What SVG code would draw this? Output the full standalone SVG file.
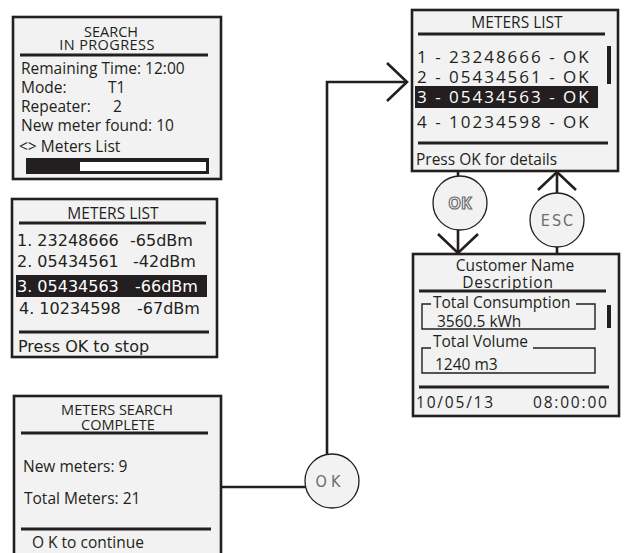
<svg xmlns="http://www.w3.org/2000/svg" width="627" height="553" viewBox="0 0 627 553">
<style>
.box{fill:#f2f2f2;stroke:#231f20;stroke-width:2.6}
.rule{stroke:#231f20;stroke-width:2.8;fill:none}
.t{font-family:"Open Sans","DejaVu Sans",sans-serif;fill:#231f20;font-size:15.5px}
.h{font-size:14.5px}
.d{font-family:"DejaVu Sans",sans-serif;fill:#231f20;font-size:16px}
.c{text-anchor:middle}
.w{fill:#ffffff}
.conn{stroke:#231f20;stroke-width:2.6;fill:none}
.circ{fill:#f2f2f2;stroke:#231f20;stroke-width:1.3}
.btn{font-family:"DejaVu Sans Condensed","Roboto Condensed","DejaVu Sans",sans-serif;font-stretch:condensed;fill:#6d6d6d;font-size:16px;text-anchor:middle}
.frame{stroke:#231f20;stroke-width:1.4;fill:none}
.row{font-size:17px;letter-spacing:2px}
</style>
<g id="connectors">
<path class="conn" d="M221,487 H305"/>
<path class="conn" d="M327,454 V82 H406"/>
<path class="conn" d="M387,63 L407,82 L387,101"/>
<path class="conn" d="M458,171 V176"/>
<path class="conn" d="M458,230 V252"/>
<path class="conn" d="M438,234 L458,253 L478,234"/>
<path class="conn" d="M557,193 V173"/>
<path class="conn" d="M538,190 L557,172 L576,190"/>
<path class="conn" d="M557,247 V254"/>
</g>
<g id="search-in-progress">
<rect class="box" x="13" y="17" width="208" height="162"/>
<text class="t h c" x="111" y="37">SEARCH</text>
<text class="t h c" x="107" y="49.5" letter-spacing="0.4">IN PROGRESS</text>
<line class="rule" x1="20" y1="55" x2="208" y2="55"/>
<text class="t" x="21" y="74" font-size="15.8">Remaining Time: 12:00</text>
<text class="t" x="21" y="93" font-size="15.8">Mode:</text>
<text class="t" x="108" y="93" font-size="15.8">T1</text>
<text class="t" x="21" y="112" font-size="15.8">Repeater:</text>
<text class="t" x="113" y="112" font-size="15.8">2</text>
<text class="t" x="21" y="131" font-size="15.8">New meter found: 10</text>
<text class="t" x="19" y="152" font-size="15.8">&lt;&gt; Meters List</text>
<rect x="26" y="158" width="183" height="16" fill="#231f20"/>
<rect x="80" y="162" width="126" height="9" fill="#ffffff"/>
</g>
<g id="meters-list-rssi">
<rect class="box" x="12" y="199" width="205" height="158"/>
<text class="t c" x="113" y="219">METERS LIST</text>
<line class="rule" x1="19" y1="223" x2="206" y2="223"/>
<text class="d" x="17" y="246">1. 23248666</text>
<text class="d" x="130" y="246">-65dBm</text>
<text class="d" x="17" y="267">2. 05434561</text>
<text class="d" x="133" y="267">-42dBm</text>
<rect x="16" y="275" width="191" height="22" fill="#231f20"/>
<text class="d w" x="17" y="292">3. 05434563</text>
<text class="d w" x="135" y="292">-66dBm</text>
<text class="d" x="19" y="314">4. 10234598</text>
<text class="d" x="137" y="314">-67dBm</text>
<line class="rule" x1="19" y1="332" x2="209" y2="332"/>
<text class="d" x="18" y="352">Press OK to stop</text>
</g>
<g id="search-complete">
<rect class="box" x="14" y="396" width="207" height="170"/>
<text class="t h c" x="117" y="415">METERS SEARCH</text>
<text class="t h c" x="118" y="429.5">COMPLETE</text>
<line class="rule" x1="21" y1="433" x2="208" y2="433"/>
<text class="t" x="23" y="472" font-size="15.8">New meters: 9</text>
<text class="t" x="24" y="504" font-size="15.8">Total Meters: 21</text>
<line class="rule" x1="21" y1="529" x2="211" y2="529"/>
<text class="t" x="32" y="548">O K to continue</text>
</g>
<g id="ok-button-1">
<circle class="circ" cx="332" cy="481" r="27"/>
<text class="btn" x="330" y="487" font-size="17" letter-spacing="4">OK</text>
</g>
<g id="meters-list">
<rect class="box" x="412" y="10" width="206" height="161"/>
<text class="t c" x="517" y="28" font-size="16">METERS LIST</text>
<line class="rule" x1="418" y1="34" x2="605" y2="34"/>
<text class="t row" x="417" y="63">1 - 23248666 - OK</text>
<text class="t row" x="417" y="83">2 - 05434561 - OK</text>
<rect x="415" y="86" width="183" height="22" fill="#231f20"/>
<text class="t w row" x="417" y="103">3 - 05434563 - OK</text>
<text class="t row" x="417" y="128">4 - 10234598 - OK</text>
<rect x="607" y="46" width="4" height="38" fill="#231f20"/>
<line class="rule" x1="418" y1="143" x2="608" y2="143"/>
<text class="t" x="416" y="165" font-size="16">Press OK for details</text>
</g>
<g id="ok-button-2">
<circle class="circ" cx="460" cy="203" r="27"/>
<text x="460" y="209" text-anchor="middle" font-family="'Open Sans','DejaVu Sans',sans-serif" font-weight="bold" font-size="16" fill="#ffffff" stroke="#6d6d6d" stroke-width="1.2">OK</text>
</g>
<g id="esc-button">
<circle class="circ" cx="557" cy="220" r="27"/>
<text class="btn" x="558" y="226" letter-spacing="2">ESC</text>
</g>
<g id="meter-details">
<rect class="box" x="413" y="254" width="206" height="162"/>
<text class="t c" x="515" y="271" font-size="16">Customer Name</text>
<text class="t c" x="508" y="288" font-size="15.5" letter-spacing="0.8">Description</text>
<line class="rule" x1="419" y1="291" x2="606" y2="291"/>
<path class="frame" d="M431,304 H422 V329 H595 V304 H576"/>
<text class="t" x="433" y="308" font-size="16">Total Consumption</text>
<text class="t" x="437" y="327" font-size="15">3560.5 kWh</text>
<rect x="607" y="305" width="4" height="23" fill="#231f20"/>
<path class="frame" d="M431,348 H422 V373 H595 V348 H533"/>
<text class="t" x="433" y="347" font-size="16">Total Volume</text>
<text class="t" x="435" y="370" font-size="15">1240 m3</text>
<line class="rule" x1="419" y1="387" x2="609" y2="387"/>
<text class="t" x="416" y="408" font-size="16" letter-spacing="1.8">10/05/13</text>
<text class="t" x="533" y="408" font-size="16" letter-spacing="1.8">08:00:00</text>
</g>
</svg>
